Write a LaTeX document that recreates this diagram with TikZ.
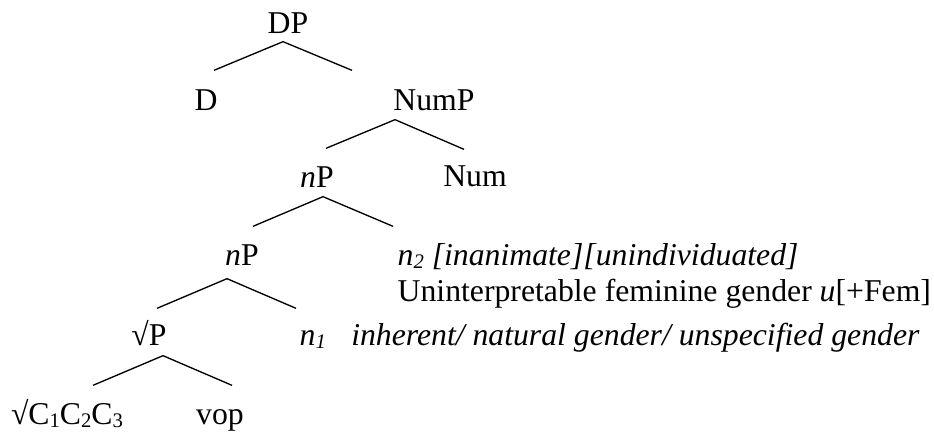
\documentclass[tikz,border=0pt]{standalone}
\usepackage{fontspec}
\setmainfont{Liberation Serif}
\usepackage{tikz}

% shallow subscript, as in the reference
\newcommand{\lowsub}[1]{\raisebox{-0.12em}{\fontsize{15.5}{18}\selectfont #1}}

\begin{document}
\begin{tikzpicture}[x=0.75pt,y=-0.75pt,line width=1pt,
    every node/.style={inner sep=0pt,text height=13.5pt,text depth=0pt,
      font=\fontsize{23.8}{28}\selectfont},
    cat/.style={anchor=base},
    note/.style={anchor=base west}]
              \useasboundingbox (0,0) rectangle (934,432);

              \node[cat] (DP)   at (288,33)  {DP};
              \node[cat] (D)    at (206,110) {D};
              \node[cat] (NumP) at (434,110) {NumP};
              \node[cat] (nP1)  at (317,187) {\textit{n}P};
              \node[cat] (Num)  at (475,186) {Num};
              \node[cat] (nP2)  at (242,265) {\textit{n}P};
              \node[note] (n2)  at (397,265) {\textit{n\lowsub{2} [inanimate][unindividuated]}};
              \node[note] (uF)  at (397,301) {Uninterpretable feminine gender \textit{u}[+Fem]};
              \node[cat] (rP)   at (149,345) {√P};
              \node[note] (n1)  at (299,345) {\textit{n\lowsub{1}}\hspace{0.8em}\textit{inherent/ natural gender/ unspecified gender}};
              \node[cat] (root) at (67,424)  {√C\lowsub{1}C\lowsub{2}C\lowsub{3}};
              \node[cat] (vop)  at (220,424) {vop};

              \draw ([shift={(8,-21)}]D.north) -- ([shift={(-5,8)}]DP.south) -- ([shift={(-82,-21)}]NumP.north);
              \draw ([shift={(9,-20)}]nP1.north) -- ([shift={(-39,9)}]NumP.south) -- ([shift={(-11,-18)}]Num.north);
              \draw ([shift={(11,-20)}]nP2.north) -- ([shift={(6,9)}]nP1.south) -- ([shift={(-4,-20)}]n2.north west);
              \draw ([shift={(8,-18)}]rP.north) -- ([shift={(-15,13)}]nP2.south) -- ([shift={(-3,-18)}]n1.north west);
              \draw ([shift={(26,-20)}]root.north) -- ([shift={(14,10)}]rP.south) -- ([shift={(12,-20)}]vop.north);
          \end{tikzpicture}
\end{document}
